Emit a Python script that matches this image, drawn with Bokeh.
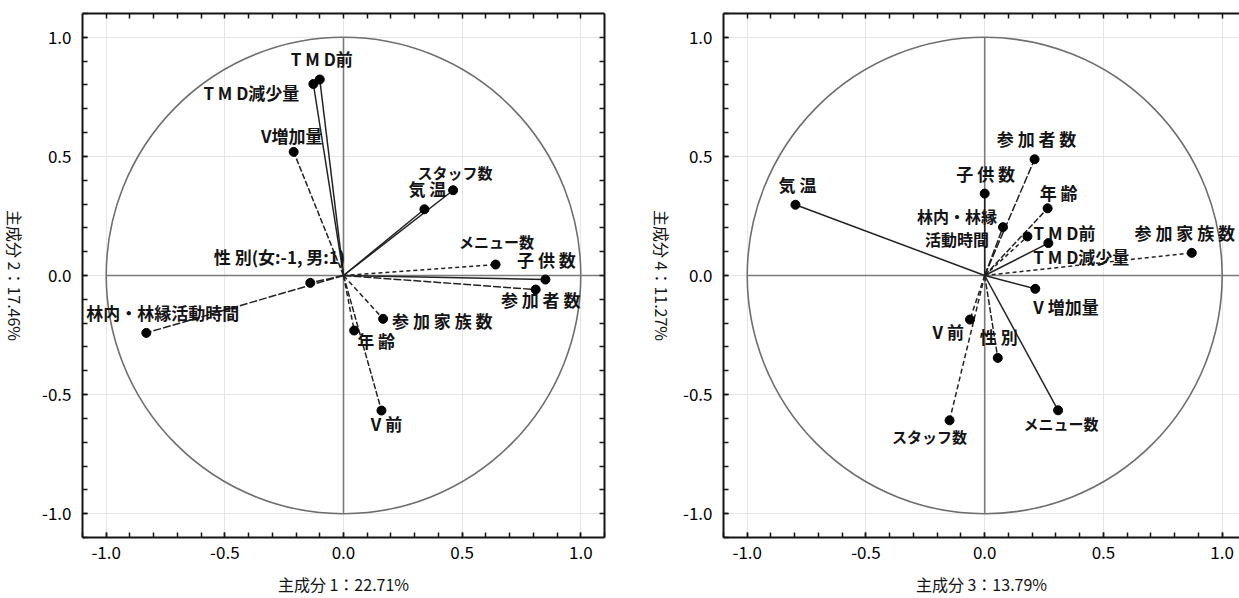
import math
from bokeh.plotting import figure
from bokeh.models import (ColumnDataSource, LinearAxis, SingleIntervalTicker, FixedTicker,
                          PrintfTickFormatter, Range1d, Grid)
from bokeh.layouts import row
from bokeh.embed import file_html
from bokeh.resources import INLINE
from bokeh.core.properties import value

# ---------------- data ----------------
variables = ["気温", "スタッフ数", "メニュー数", "参加家族数", "参加者数", "子供数", "性別",
             "年齢", "林内・林縁活動時間", "V前", "V増加量", "TMD前", "TMD減少量"]
pc1 = [0.341, 0.462, 0.641, 0.167, 0.810, 0.851, -0.140, 0.045, -0.831, 0.160, -0.210, -0.100, -0.127]
pc2 = [0.278, 0.358, 0.046, -0.182, -0.059, -0.017, -0.031, -0.231, -0.241, -0.567, 0.519, 0.823, 0.804]
pc3 = [-0.797, -0.148, 0.309, 0.872, 0.210, 0.000, 0.055, 0.265, 0.077, -0.062, 0.213, 0.180, 0.268]
pc4 = [0.297, -0.608, -0.566, 0.095, 0.488, 0.344, -0.346, 0.282, 0.203, -0.185, -0.056, 0.164, 0.136]

labels_12 = ["気 温", "スタッフ数", "メニュー数", "参 加 家 族 数", "参 加 者 数", "子 供 数",
             "性 別(女:-1, 男:1)", "年 齢", "林内・林縁活動時間", "V 前", "V増加量", "T M D前", "T M D減少量"]
labels_34 = ["気 温", "スタッフ数", "メニュー数", "参 加 家 族 数", "参 加 者 数", "子 供 数",
             "性 別", "年 齢", "林内・林縁\n活動時間", "V 前", "V 増加量", "T M D前", "T M D減少量"]

axis_titles = {"pc1": "主成分 1：22.71%", "pc2": "主成分 2：17.46%",
               "pc3": "主成分 3：13.79%", "pc4": "主成分 4：11.27%"}

minor_tick_values = [i / 10 for i in range(-10, 11)]

# ---------------- styles ----------------
dash_12 = ["solid", "solid", "4 3", "5 3", "8 2", "solid", "8 2", "5 3", "8 2", "6 2", "6 2", "solid", "solid"]
dash_34 = ["solid", "5 3", "solid", "4 3", "8 2", "solid", "6 2", "6 2", "8 2", "5 3", "solid", "4 3", "solid"]
size_12 = ["17px", "15px", "15px", "17px", "17px", "17px", "17px", "17px", "17px", "17px", "17px", "17px", "17px"]
size_34 = ["17px", "15px", "15px", "17px", "17px", "17px", "17px", "17px", "16px", "17px", "17px", "17px", "17px"]

# label placement: (x offset px, y offset px, align, baseline)
place_12 = [(3, -8, "center", "bottom"), (2, -7, "center", "bottom"), (1, -13, "center", "bottom"),
            (9, 2, "left", "middle"), (5, -3, "center", "top"), (1, -8, "center", "bottom"),
            (35, -14, "right", "bottom"), (3, 10, "left", "middle"), (-60, -8, "left", "bottom"),
            (5, 0, "center", "top"), (-2, -4, "center", "bottom"), (2, -8, "center", "bottom"),
            (-14, 8, "right", "middle")]
place_34 = [(2, -8, "center", "bottom"), (-20, 6, "center", "top"), (3, 3, "center", "top"),
            (-7, -8, "center", "bottom"), (2, -8, "center", "bottom"), (1, -8, "center", "bottom"),
            (1, -9, "center", "bottom"), (11, -3, "center", "bottom"), (-46, 0, "center", "middle"),
            (-6, 12, "right", "middle"), (-2, 5, "left", "top"), (6, -4, "left", "middle"),
            (-15, 13, "left", "middle")]

FONT = "Noto Sans CJK JP"
INK = "#141414"
H = 598
TOP, BOTTOM = 13, 61


def base_axis(ax):
    ax.axis_line_color = INK
    ax.axis_line_width = 2
    ax.major_tick_in = 5
    ax.major_tick_out = 0
    ax.minor_tick_in = 5
    ax.minor_tick_out = 0
    ax.major_tick_line_color = INK
    ax.minor_tick_line_color = INK
    ax.major_tick_line_width = 1.5
    ax.minor_tick_line_width = 1.5


def labelled_axis(label=None):
    ax = LinearAxis(axis_label=label)
    base_axis(ax)
    ax.ticker = SingleIntervalTicker(interval=0.5, num_minor_ticks=5)
    ax.formatter = PrintfTickFormatter(format="%.1f")
    ax.major_label_text_font = FONT
    ax.major_label_text_font_size = "17px"
    ax.major_label_text_color = "#000000"
    ax.axis_label_text_font = FONT
    ax.axis_label_text_font_size = "16px"
    ax.axis_label_text_font_style = "normal"
    ax.axis_label_text_color = INK
    return ax


def plain_axis():
    ax = LinearAxis()
    base_axis(ax)
    ax.ticker = FixedTicker(ticks=[], minor_ticks=minor_tick_values)
    ax.major_label_standoff = 0
    return ax


def title_strip(text, width, x_center, y_range):
    """Narrow figure holding the vertical axis title, read top to bottom."""
    t = figure(width=width, height=H, output_backend="svg", toolbar_location=None,
               x_range=Range1d(0, width), y_range=y_range,
               x_axis_location=None, y_axis_location=None,
               min_border_left=0, min_border_right=0, min_border_top=TOP, min_border_bottom=BOTTOM)
    t.outline_line_color = None
    t.grid.visible = False
    t.text(x=[x_center], y=[0.0], text=[text], angle=-math.pi / 2, text_align="center",
           text_baseline="middle", text_font=value(FONT), text_font_size="16px", text_color=INK)
    return t


def make_panel(xs, ys, labels, dashes, sizes, places, xlab, width, x_end, border_left,
               border_right, right_axis):
    p = figure(width=width, height=H, output_backend="svg", toolbar_location=None,
               x_range=Range1d(-1.1, x_end), y_range=Range1d(-1.1, 1.1),
               x_axis_location=None, y_axis_location=None,
               min_border_left=border_left, min_border_right=border_right,
               min_border_top=TOP, min_border_bottom=BOTTOM)
    p.outline_line_color = None
    p.background_fill_color = "white"

    left = labelled_axis()
    left.major_label_standoff = 11
    p.add_layout(left, "left")

    below = labelled_axis(xlab)
    below.major_label_standoff = 8
    below.axis_label_standoff = 10
    p.add_layout(below, "below")

    p.add_layout(plain_axis(), "above")
    if right_axis:
        p.add_layout(plain_axis(), "right")

    for dim in (0, 1):
        g = Grid(dimension=dim, ticker=SingleIntervalTicker(interval=0.5))
        g.grid_line_color = "#e6e6e6"
        g.grid_line_width = 1
        p.add_layout(g)

    # unit circle and zero lines
    p.ellipse(x=0, y=0, width=2, height=2, fill_color=None, line_color="#6e6e6e", line_width=1.6)
    p.segment(x0=[-1.0], y0=[0], x1=[x_end], y1=[0], line_color="#7a7a7a", line_width=1.6)
    p.segment(x0=[0], y0=[-1.0], x1=[0], y1=[1.0], line_color="#7a7a7a", line_width=1.6)

    # loading vectors
    for i in range(len(xs)):
        src = ColumnDataSource(dict(x0=[0.0], y0=[0.0], x1=[xs[i]], y1=[ys[i]]))
        p.segment(x0="x0", y0="y0", x1="x1", y1="y1", source=src, line_color="#222222",
                  line_width=1.5, line_dash=dashes[i])
    p.scatter(x=xs, y=ys, size=9, color="#000000")

    for i in range(len(xs)):
        xo, yo, al, bl = places[i]
        p.text(x=[xs[i]], y=[ys[i]], text=[labels[i]], x_offset=xo, y_offset=yo,
               text_align=al, text_baseline=bl, text_font=value(FONT), text_font_style="bold",
               text_font_size=sizes[i], text_color=INK, text_line_height=0.95)
    return p


p1 = make_panel(pc1, pc2, labels_12, dash_12, size_12, place_12, axis_titles["pc1"],
                width=610, x_end=1.1, border_left=52, border_right=36, right_axis=True)
t1 = title_strip(axis_titles["pc2"], 30, 14, p1.y_range)
p2 = make_panel(pc3, pc4, labels_34, dash_34, size_34, place_34, axis_titles["pc3"],
                width=559, x_end=1.073, border_left=43, border_right=0, right_axis=False)
t2 = title_strip(axis_titles["pc4"], 40, 21, p2.y_range)

layout = row(t1, p1, t2, p2)
open("out.html", "w").write(file_html(layout, INLINE))
